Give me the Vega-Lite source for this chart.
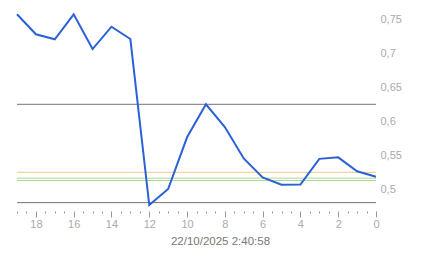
{
  "$schema": "https://vega.github.io/schema/vega-lite/v6.json",
  "width": 359,
  "height": 208,
  "autosize": {"type": "none"},
  "padding": {"left": 17, "top": 0, "right": 67, "bottom": 50},
  "background": "white",
  "config": {"view": {"stroke": null}, "font": "Liberation Sans"},
  "datasets": {
    "series": [
      {"k": 19, "v": 0.7574}, {"k": 18, "v": 0.728}, {"k": 17, "v": 0.7206},
      {"k": 16, "v": 0.7574}, {"k": 15, "v": 0.7063}, {"k": 14, "v": 0.7391},
      {"k": 13, "v": 0.721}, {"k": 12, "v": 0.4769}, {"k": 11, "v": 0.5004},
      {"k": 10, "v": 0.5765}, {"k": 9, "v": 0.625}, {"k": 8, "v": 0.5915},
      {"k": 7, "v": 0.5453}, {"k": 6, "v": 0.5176}, {"k": 5, "v": 0.5068},
      {"k": 4, "v": 0.507}, {"k": 3, "v": 0.5448}, {"k": 2, "v": 0.547},
      {"k": 1, "v": 0.5265}, {"k": 0, "v": 0.5185}
    ],
    "refs": [
      {"y": 0.625, "kind": "limit high"},
      {"y": 0.4804, "kind": "limit low"},
      {"y": 0.525, "kind": "warn"},
      {"y": 0.5164, "kind": "ok a"},
      {"y": 0.5129, "kind": "ok b"}
    ]
  },
  "layer": [
    {
      "data": {"name": "refs"},
      "mark": {"type": "rule", "strokeWidth": 1},
      "encoding": {
        "y": {
          "field": "y", "type": "quantitative",
          "scale": {"domain": [0.4725, 0.7784], "nice": false, "zero": false},
          "axis": {
            "orient": "right", "title": null,
            "values": [0.5, 0.55, 0.6, 0.65, 0.7, 0.75],
            "labelExpr": "replace(format(datum.value, '~g'), '.', ',')",
            "labelFont": "Liberation Sans", "labelFontSize": 11, "labelColor": "#aaaaaa",
            "labelPadding": 4, "ticks": false, "tickSize": 0, "domain": false, "grid": false
          }
        },
        "color": {
          "field": "kind", "type": "nominal", "legend": null,
          "scale": {"domain": ["limit high", "limit low", "warn", "ok a", "ok b"], "range": ["#737373", "#737373", "#f3c77c", "#a9da95", "#a9da95"]}
        }
      }
    },
    {
      "data": {"name": "series"},
      "mark": {"type": "line", "color": "#2b61d6", "strokeWidth": 2},
      "encoding": {
        "x": {
          "field": "k", "type": "quantitative",
          "scale": {"domain": [19, 0], "nice": false, "zero": false},
          "axis": {
            "title": "22/10/2025 2:40:58",
            "titleFont": "Liberation Sans", "titleFontSize": 11.5, "titleFontWeight": "normal", "titleColor": "#777777", "titlePadding": 6,
            "titleX": 203, "titleAlign": "center", "titleAnchor": "start",
            "values": [19, 18.5, 18, 17.5, 17, 16.5, 16, 15.5, 15, 14.5, 14, 13.5, 13, 12.5, 12, 11.5, 11, 10.5, 10, 9.5, 9, 8.5, 8, 7.5, 7, 6.5, 6, 5.5, 5, 4.5, 4, 3.5, 3, 2.5, 2, 1.5, 1, 0.5, 0],
            "labelExpr": "datum.value % 2 === 0 ? format(datum.value, 'd') : ''",
            "labelFont": "Liberation Sans", "labelFontSize": 11, "labelColor": "#aaaaaa", "labelPadding": 1,
            "labelFlush": false, "labelOverlap": false,
            "domain": false, "grid": false, "offset": 3,
            "tickSize": 6, "tickColor": "#999999", "tickWidth": 1,
            "tickDash": {"condition": {"test": "datum.value % 2 === 0", "value": [6, 0]}, "value": [2, 10]}
          }
        },
        "y": {
          "field": "v", "type": "quantitative",
          "scale": {"domain": [0.4725, 0.7784], "nice": false, "zero": false},
          "axis": {
            "orient": "right", "title": null,
            "values": [0.5, 0.55, 0.6, 0.65, 0.7, 0.75],
            "labelExpr": "replace(format(datum.value, '~g'), '.', ',')",
            "labelFont": "Liberation Sans", "labelFontSize": 11, "labelColor": "#aaaaaa",
            "labelPadding": 4, "ticks": false, "tickSize": 0, "domain": false, "grid": false
          }
        }
      }
    }
  ]
}
